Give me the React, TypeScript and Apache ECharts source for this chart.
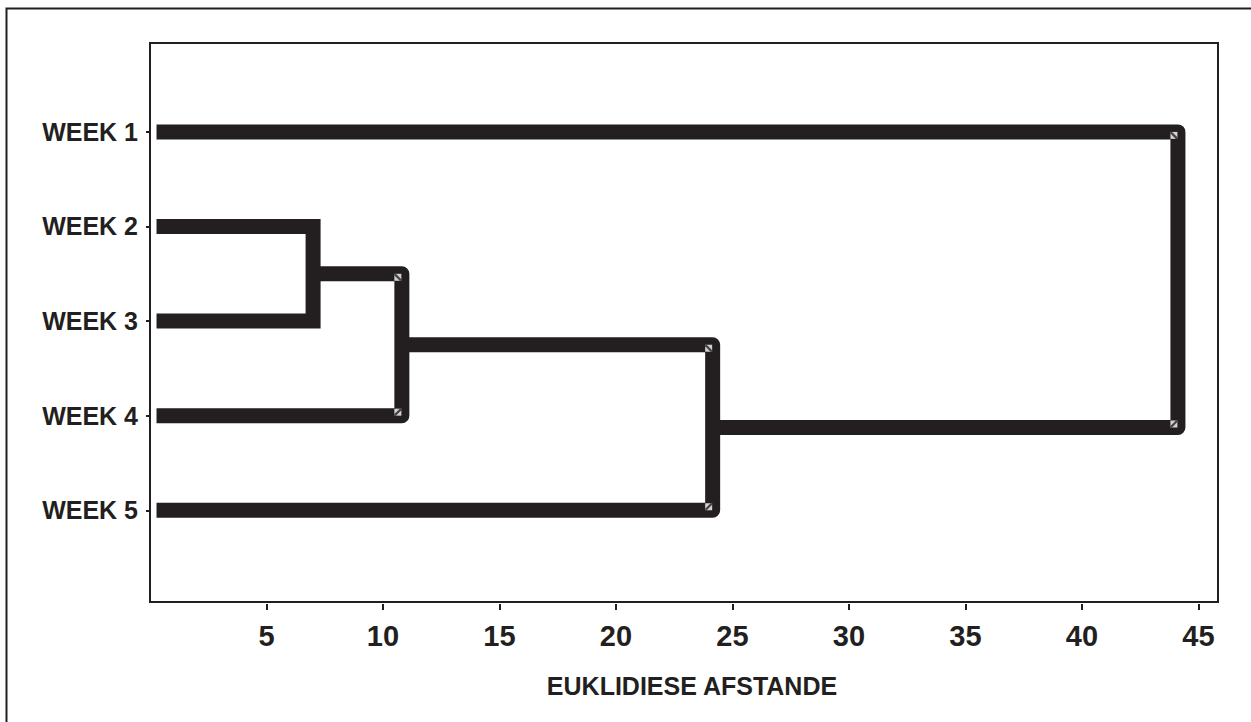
import React, { useEffect, useRef } from "react";
import * as echarts from "echarts";

// ---- data ----
const weekLabels = ["WEEK 1", "WEEK 2", "WEEK 3", "WEEK 4", "WEEK 5"];
const leafPositions = [1, 2, 3, 4, 5];
const leafStart = 0.28;
// merges: ids 0-4 are the leaves, merge k gets id 5 + k
const mergeFirst = [1, 5, 6, 0];
const mergeSecond = [2, 3, 4, 7];
const mergeDistance = [7.0, 10.81, 24.15, 44.12];
const xTickValues = [5, 10, 15, 20, 25, 30, 35, 40, 45];
const axisTitle = "EUKLIDIESE AFSTANDE";

const INK = "#231f20";
const FONT = "'Liberation Sans', Arial, Helvetica, sans-serif";

function buildNodes() {
  const xs: number[] = leafPositions.map(() => leafStart);
  const ys: number[] = leafPositions.slice();
  mergeDistance.forEach((d, k) => {
    xs.push(d);
    ys.push((ys[mergeFirst[k]] + ys[mergeSecond[k]]) / 2);
  });
  return { xs, ys };
}

export default function App() {
  const ref = useRef<HTMLDivElement>(null);

  useEffect(() => {
    if (!ref.current) return;
    const chart = echarts.init(ref.current, undefined, { renderer: "svg" });
    const { xs, ys } = buildNodes();

    const linkSeries = mergeDistance.map((d, k) => {
      const a = mergeFirst[k];
      const b = mergeSecond[k];
      return {
        type: "line",
        name: "merge" + k,
        showSymbol: false,
        symbol: "none",
        silent: true,
        clip: false,
        z: 3,
        lineStyle: {
          color: INK,
          width: 15,
          cap: "butt",
          join: k === 0 ? "miter" : "round",
        },
        data: [
          [xs[a], ys[a]],
          [d, ys[a]],
          [d, ys[b]],
          [xs[b], ys[b]],
        ],
      };
    });

    const boxData: any[] = [];
    const slashData: any[] = [];
    mergeDistance.forEach((d, k) => {
      if (k === 0) return;
      const a = mergeFirst[k];
      const b = mergeSecond[k];
      boxData.push({ value: [d, ys[a]], symbolOffset: [-4, 3.5] });
      boxData.push({ value: [d, ys[b]], symbolOffset: [-4, -3.5] });
      slashData.push({
        value: [d, ys[a]],
        symbolOffset: [-4, 3.5],
        symbol: "path://M0,0 L1.6,0 L7,5.4 L7,7 L5.4,7 L0,1.6 Z",
      });
      slashData.push({
        value: [d, ys[b]],
        symbolOffset: [-4, -3.5],
        symbol: "path://M7,0 L7,1.6 L1.6,7 L0,7 L0,5.4 L5.4,0 Z",
      });
    });

    const option: any = {
      animation: false,
      backgroundColor: "#ffffff",
      textStyle: { fontFamily: FONT },
      graphic: [
        {
          type: "rect",
          silent: true,
          shape: { x: 6.5, y: 8.5, width: 1300, height: 800 },
          style: { fill: "none", stroke: INK, lineWidth: 2 },
        },
      ],
      grid: {
        left: 150,
        top: 43,
        right: 33,
        bottom: 120,
        show: true,
        borderColor: INK,
        borderWidth: 2,
        backgroundColor: "transparent",
      },
      xAxis: {
        type: "value",
        min: 0,
        max: 45.84,
        offset: 2,
        axisLine: { show: false },
        splitLine: { show: false },
        axisTick: {
          show: true,
          customValues: xTickValues,
          length: 6,
          lineStyle: { color: INK, width: 2 },
        },
        axisLabel: {
          customValues: xTickValues,
          color: INK,
          fontFamily: FONT,
          fontWeight: "bold",
          fontSize: 29,
          margin: 17,
        },
        name: axisTitle,
        nameLocation: "middle",
        nameGap: 69,
        nameTextStyle: {
          color: INK,
          fontFamily: FONT,
          fontWeight: "bold",
          fontSize: 25,
          padding: [0, 0, 0, 16],
        },
      },
      yAxis: {
        type: "value",
        inverse: true,
        min: 0.06,
        max: 5.97,
        axisLine: { show: false },
        splitLine: { show: false },
        axisTick: {
          show: true,
          customValues: leafPositions,
          length: 4,
          lineStyle: { color: INK, width: 2 },
        },
        axisLabel: {
          customValues: leafPositions,
          formatter: (v: number) => weekLabels[Math.round(v) - 1] ?? "",
          color: INK,
          fontFamily: FONT,
          fontWeight: "bold",
          fontSize: 25,
          margin: 12,
          padding: [8, 0, 0, 0],
        },
      },
      series: [
        ...linkSeries,
        {
          type: "scatter",
          name: "cornerBox",
          silent: true,
          z: 5,
          symbol: "rect",
          symbolSize: 7,
          itemStyle: { color: "#ffffff" },
          data: boxData,
        },
        {
          type: "scatter",
          name: "cornerSlash",
          silent: true,
          z: 6,
          symbolSize: 7,
          itemStyle: { color: INK },
          data: slashData,
        },
      ],
    };

    chart.setOption(option);
    return () => chart.dispose();
  }, []);

  return (
    <div
      ref={ref}
      style={{
        position: "fixed",
        left: 0,
        top: 0,
        width: 1251,
        height: 722,
        background: "#ffffff",
      }}
    />
  );
}
